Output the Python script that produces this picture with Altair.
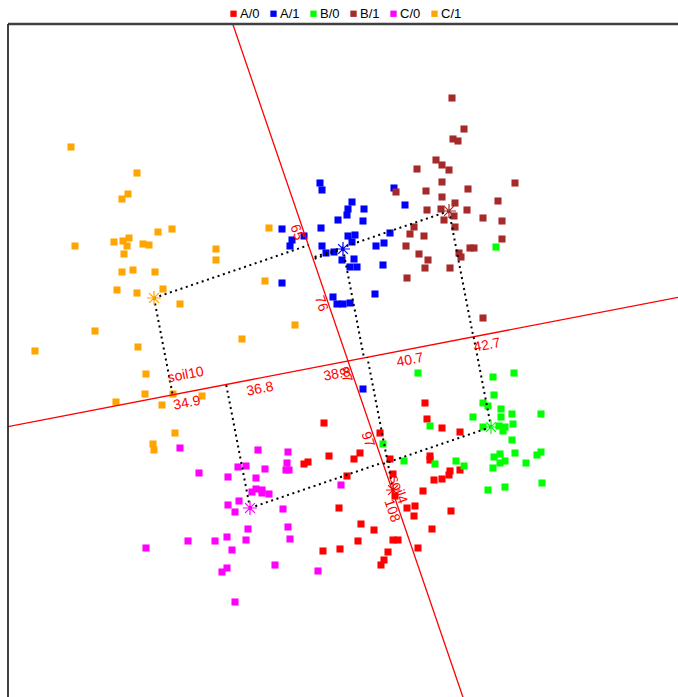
import math
import altair as alt
import numpy as np
import pandas as pd

# ---- groups -----------------------------------------------------------
groups = ["A/0", "A/1", "B/0", "B/1", "C/0", "C/1"]
group_colors = ["#FF0000", "#0000FF", "#00FF00", "#A52A2A", "#FF00FF", "#FFA500"]

# ---- biplot scores per group ----------------------------------------
a0_x = [77, 79, 94, 112, -24, 32, -19, 12, 6, -44, -40, 42, 82, 82, 102, 112, 101, 94, 86, -1,
        45, 47, 75, -9, 59, 67, 66, 103, 13, 26, 84, 10, 45, 50, -25, -8, 70, 40, 36, 33]
a0_y = [-42, -58, -67, -71, -62, -72, -95, -92, -98, -103, -101, -98, -95, -99, -110, -109, -114,
        -118, -119, -115, -113, -135, -130, -147, -147, -145, -155, -150, -163, -169, -168, -180,
        -179, -179, -190, -188, -187, -191, -199, -204]

a1_x = [-28, -26, 4, 16, 0, -1, -10, 15, -66, -27, -44, -56, -58, -26, 0, 7, 4, 28, -22, -14,
        -6, 6, 2, 9, -66, 27, -15, -11, -5, 2, 46, 57, 42, 36, 35, 15]
a1_y = [178, 171, 159, 152, 152, 146, 141, 140, 132, 133, 125, 121, 115, 115, 125, 126, 119, 115,
        108, 109, 101, 102, 94, 94, 78, 67, 64, 57, 57, 58, 173, 156, 128, 118, 96, -28]

b0_x = [70, 145, 166, 146, 135, 140, 153, 164, 193, 153, 125, 165, 151, 157, 155, 135, 82, 164,
        146, 152, 167, 157, 152, 193, 189, 178, 145, 108, 116, 87, 56, 194, 157, 140, 35, 148]
b0_y = [-12, -16, -12, -34, -42, -45, -48, -53, -53, -56, -56, -63, -65, -66, -70, -66, -65, -79,
        -96, -93, -92, -100, -102, -91, -94, -102, -107, -100, -105, -103, -100, -122, -126, -129,
        -83, 114]

b1_x = [104, 116, 105, 110, 88, 94, 101, 69, 167, 94, 120, 78, 48, 94, 150, 107, 79, 93, 119,
        106, 96, 135, 154, 107, 66, 62, 76, 154, 58, 122, 126, 111, 71, 113, 80, 77, 102, 59, 135]
b1_y = [263, 232, 222, 220, 201, 196, 191, 192, 178, 179, 172, 170, 169, 164, 160, 158, 151, 152,
        151, 145, 141, 143, 140, 134, 134, 127, 125, 122, 115, 113, 113, 108, 107, 104, 101, 93, 93,
        83, 43]

c0_x = [-168, -90, -60, -61, -62, -59, -110, -102, -83, -149, -120, -92, -92, -96, -86, -86, -79,
        -109, -120, -113, -65, -100, -60, -121, -160, -133, -102, -58, -202, -116, -73, -121, -126,
        -30, -113, -7]
c0_y = [-87, -89, -91, -102, -109, -109, -106, -105, -108, -112, -116, -117, -128, -131, -129,
        -132, -133, -140, -144, -151, -148, -168, -166, -176, -180, -180, -179, -178, -187, -189,
        -204, -207, -211, -210, -241, -124]

c1_x = [-277, -211, -220, -226, -190, -176, -273, -234, -225, -219, -221, -205, -199, -224, -132,
        -132, -226, -215, -193, -231, -211, -185, -168, -253, -313, -210, -106, -202, -203, -232,
        -175, -146, -186, -173, -195, -194, -83, -53, -79]
c1_y = [214, 188, 167, 162, 129, 132, 115, 119, 120, 123, 115, 117, 116, 107, 112, 101, 89, 91,
        89, 71, 68, 72, 57, 30, 10, 14, 22, -13, -33, -41, -33, -35, -44, -72, -83, -89, 80, 36, 133]

# group means (marked with a star)
centroid_x = [45, -5, 143, 101, -98, -194]
centroid_y = [-129, 112, -66, 150, -147, 63]

# ---- calibrated biplot axes -------------------------------------------
axis_names = ["soil10", "soil4"]
axis_dirs = [(1.0, 0.193), (0.342, -1.0)]
axis_ticks = [[34.9, 36.8, 38.8, 40.7, 42.7], [65, 76, 87, 97, 108]]
axis_value_at_origin = [39.14, 85.22]
axis_scale = [39.2, 6.84]          # biplot units per measurement unit
tick_label_offset = [11, 7]
name_position = [(-162, -17), (138, -5.7)]   # (along axis, across axis)

x_domain = [-340, 330]
y_domain = [-336, 337]

# ---- tables ------------------------------------------------------------
xs = [a0_x, a1_x, b0_x, b1_x, c0_x, c1_x]
ys = [a0_y, a1_y, b0_y, b1_y, c0_y, c1_y]
points = pd.concat(
    [pd.DataFrame({"x": gx, "y": gy, "group": g}) for g, gx, gy in zip(groups, xs, ys)],
    ignore_index=True,
)

units = []
for dx, dy in axis_dirs:
    n = math.hypot(dx, dy)
    units.append(np.array([dx / n, dy / n]))

far = 3000
axis_lines = pd.DataFrame([
    {"x": -far * u[0], "y": -far * u[1], "x2": far * u[0], "y2": far * u[1]} for u in units
])

# perpendicular projections of each group mean onto each axis
proj_rows = []
for cx, cy in zip(centroid_x, centroid_y):
    c = np.array([cx, cy], dtype=float)
    for u in units:
        p = np.dot(c, u) * u
        proj_rows.append({"x": cx, "y": cy, "x2": p[0], "y2": p[1]})
projections = pd.DataFrame(proj_rows)

stars = pd.DataFrame({"x": centroid_x, "y": centroid_y, "color": group_colors})

X = alt.X("x:Q", scale=alt.Scale(domain=x_domain, nice=False, zero=False), axis=None)
Y = alt.Y("y:Q", scale=alt.Scale(domain=y_domain, nice=False, zero=False), axis=None)

label_layers = []
for i, u in enumerate(units):
    normal = np.array([u[1], -u[0]])
    angle = math.degrees(math.atan2(-u[1], u[0])) % 360
    rows = []
    for v in axis_ticks[i]:
        along = (v - axis_value_at_origin[i]) * axis_scale[i]
        pos = along * u + tick_label_offset[i] * normal
        rows.append({"x": pos[0], "y": pos[1], "label": f"{v:g}"})
    along, across = name_position[i]
    pos = along * u + across * normal
    rows.append({"x": pos[0], "y": pos[1], "label": axis_names[i]})
    label_layers.append(
        alt.Chart(pd.DataFrame(rows)).mark_text(
            angle=angle, align="center", baseline="middle", color="#FF0000",
            font="Liberation Sans", fontSize=14,
        ).encode(x=X, y=Y, text="label:N")
    )

point_layer = alt.Chart(points).mark_square(size=50, opacity=1, strokeWidth=0).encode(
    x=X, y=Y,
    color=alt.Color(
        "group:N",
        scale=alt.Scale(domain=groups, range=group_colors),
        legend=alt.Legend(
            title=None, orient="none", direction="horizontal",
            legendX=219, legendY=-17, symbolType="square", symbolSize=40,
            symbolStrokeWidth=0, labelFont="Liberation Sans", labelFontSize=13,
            labelColor="#000000", labelOffset=0, columnPadding=7, padding=0,
        ),
    ),
)

axis_layer = alt.Chart(axis_lines).mark_rule(color="#FF0000", strokeWidth=1.3, clip=True).encode(
    x=X, y=Y, x2="x2:Q", y2="y2:Q"
)

proj_layer = alt.Chart(projections).mark_rule(
    color="#000000", strokeWidth=2, strokeDash=[2, 3.6], strokeCap="butt"
).encode(x=X, y=Y, x2="x2:Q", y2="y2:Q")

star_path = "M-1,0L1,0M0,-1L0,1M-0.7,-0.7L0.7,0.7M-0.7,0.7L0.7,-0.7"
star_layer = alt.Chart(stars).mark_point(
    shape=star_path, size=196, filled=False, strokeWidth=1.2, opacity=1
).encode(x=X, y=Y, color=alt.Color("color:N", scale=None))

frame = pd.DataFrame({"x": [x_domain[0]], "y": [y_domain[1]],
                      "x2": [x_domain[1]], "y2": [y_domain[0]]})
top_border = alt.Chart(frame).mark_rule(color="#404040", strokeWidth=2.6).encode(
    x=X, y=Y, x2="x2:Q"
)
left_border = alt.Chart(frame).mark_rule(color="#202020", strokeWidth=1.7).encode(
    x=X, y=Y, y2="y2:Q"
)

chart = alt.layer(
    point_layer, axis_layer, proj_layer, star_layer, *label_layers, top_border, left_border
).properties(
    width=670, height=673,
    autosize=alt.AutoSizeParams(type="none"),
    padding={"left": 8, "top": 24, "right": 0, "bottom": 0},
).configure_view(stroke=None)

chart.save("out.html", embed_options={"renderer": "svg", "actions": False})
